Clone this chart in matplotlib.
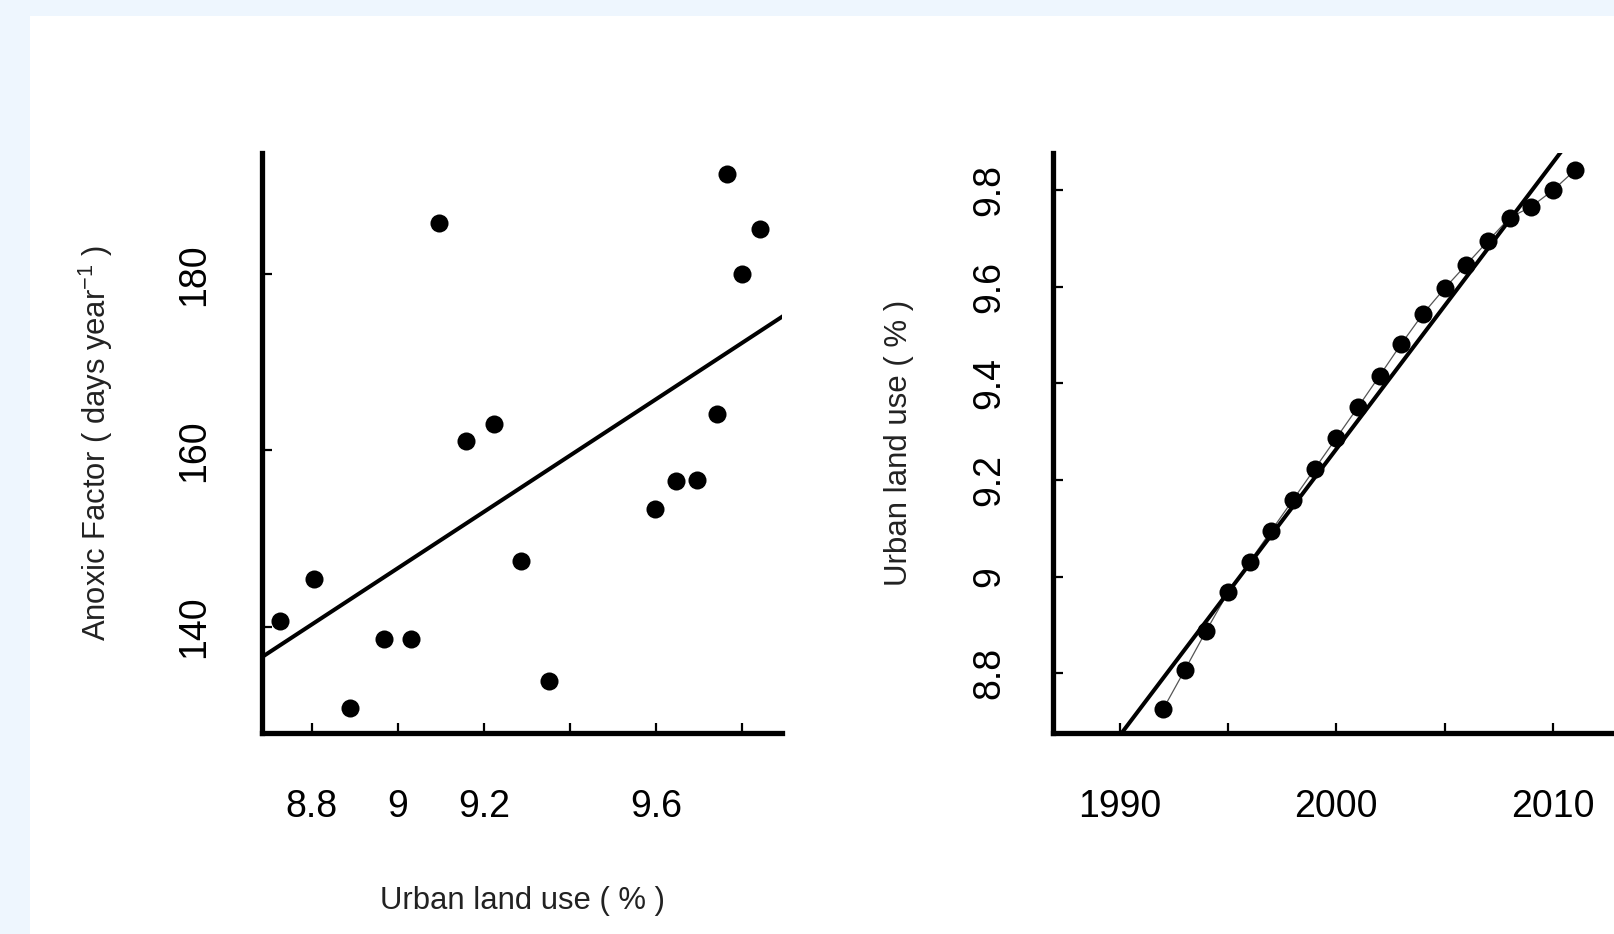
import numpy as np
import matplotlib
matplotlib.use("Agg")
import matplotlib.pyplot as plt
from matplotlib.patches import Rectangle

plt.rcParams['font.family'] = ['Liberation Sans', 'DejaVu Sans']
plt.rcParams['mathtext.fontset'] = 'custom'
plt.rcParams['mathtext.rm'] = 'Liberation Sans'
plt.rcParams['mathtext.it'] = 'Liberation Sans'

# urban land use per year (right panel)
years = [1992, 1993, 1994, 1995, 1996, 1997, 1998, 1999, 2000, 2001,
         2002, 2003, 2004, 2005, 2006, 2007, 2008, 2009, 2010, 2011]
urban = [8.725, 8.806, 8.888, 8.967, 9.031, 9.095, 9.159, 9.223, 9.287, 9.351,
         9.416, 9.482, 9.544, 9.597, 9.646, 9.695, 9.743, 9.766, 9.800, 9.841]

# anoxic factor, years with observations (left panel)
anoxic_years = [1992, 1993, 1994, 1995, 1996, 1997, 1998, 1999, 2000, 2001,
                2005, 2006, 2007, 2008, 2009, 2010, 2011]
anoxic = [140.6, 145.4, 130.7, 138.6, 138.6, 185.8, 161.1, 163.0, 147.4, 133.8,
          153.4, 156.5, 156.7, 164.2, 191.4, 180.1, 185.2]

left_xticks = [8.8, 9.0, 9.2, 9.4, 9.6, 9.8]
left_xlabels = ['8.8', '9', '9.2', '', '9.6', '']
left_yticks = [140, 160, 180]
right_xticks = [1990, 1995, 2000, 2005, 2010]
right_xlabels = ['1990', '', '2000', '', '2010']
right_yticks = [8.8, 9.0, 9.2, 9.4, 9.6, 9.8]
right_ylabels = ['8.8', '9', '9.2', '9.4', '9.6', '9.8']

urban_by_year = dict(zip(years, urban))
anoxic_x = [urban_by_year[y] for y in anoxic_years]

W, H = 1615, 934
fig = plt.figure(figsize=(W / 100, H / 100), dpi=100)
fig.patch.set_facecolor('#eef6fe')
fig.add_artist(Rectangle((30 / W, 0), 1, 1 - 16 / H, transform=fig.transFigure,
                         facecolor='white', edgecolor='none', zorder=0))

top, bottom = 153, 733
ax1 = fig.add_axes([262 / W, (H - bottom) / H, (782 - 262) / W, (bottom - top) / H])
ax2 = fig.add_axes([1052.7 / W, (H - bottom) / H, (1700 - 1052.7) / W, (bottom - top) / H])


def style(ax, xpad, ypad):
    ax.patch.set_visible(False)
    for s in ['top', 'right']:
        ax.spines[s].set_visible(False)
    for s in ['left', 'bottom']:
        ax.spines[s].set_linewidth(3.8)
        ax.spines[s].set_color('black')
    ax.tick_params(direction='in', length=7.5, width=1.6, labelsize=27, colors='black')
    ax.tick_params(axis='x', pad=xpad)
    ax.tick_params(axis='y', pad=ypad, labelrotation=90)
    for lab in ax.get_yticklabels():
        lab.set_va('center')


# left: anoxic factor vs urban land use
ax1.scatter(anoxic_x, anoxic, s=13 ** 2, color='black', zorder=3, linewidths=0)
b, a = np.polyfit(anoxic_x, anoxic, 1)
ax1.axline((9.0, a + b * 9.0), slope=b, color='black', lw=2.9, zorder=2)
ax1.set_xlim(8.684, 9.893)
ax1.set_ylim(127.9, 193.8)
ax1.set_xticks(left_xticks)
ax1.set_xticklabels(left_xlabels)
ax1.set_yticks(left_yticks)
style(ax1, 40, 36)
ax1.text(0.5, (bottom - 901) / (bottom - top), 'Urban land use ( % )', transform=ax1.transAxes,
         ha='center', va='center', fontsize=22.3, color='#222222')
ax1.text((96 - 262) / (782 - 262), 0.5, 'Anoxic Factor ( days year$^{-1}$ )',
         transform=ax1.transAxes, ha='center', va='center', rotation=90,
         fontsize=22.3, color='#222222')

# right: urban land use over time
ax2.plot(years, urban, color='#555555', lw=0.9, zorder=2)
ax2.scatter(years, urban, s=13 ** 2, color='black', zorder=3, linewidths=0)
b2, a2 = np.polyfit(years, urban, 1)
ax2.axline((2000, a2 + b2 * 2000), slope=b2, color='black', lw=2.9, zorder=2)
ax2.set_xlim(1986.91, 2016.78)
ax2.set_ylim(8.676, 9.877)
ax2.set_xticks(right_xticks)
ax2.set_xticklabels(right_xlabels)
ax2.set_yticks(right_yticks)
ax2.set_yticklabels(right_ylabels)
style(ax2, 40, 32.5)
ax2.text((899 - 1052.7) / (1700 - 1052.7), 0.5, 'Urban land use ( % )',
         transform=ax2.transAxes, ha='center', va='center', rotation=90,
         fontsize=22.5, color='#222222')

fig.savefig('out.png', dpi=100)
